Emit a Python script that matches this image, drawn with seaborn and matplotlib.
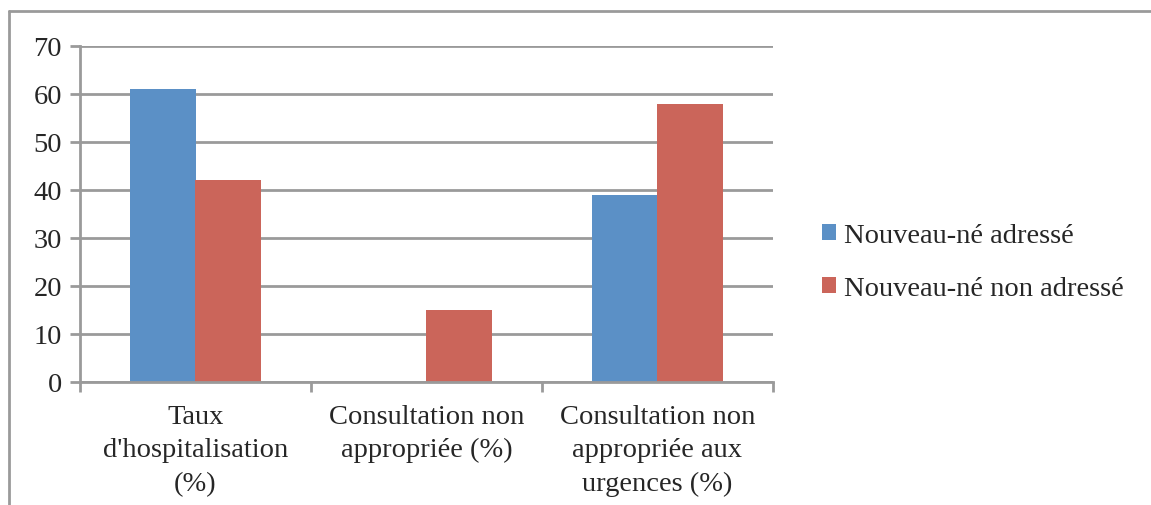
import pandas as pd
import seaborn as sns
import matplotlib.pyplot as plt
from matplotlib.lines import Line2D

# data
categories = ["Taux\nd'hospitalisation\n(%)",
              "Consultation non\nappropriée (%)",
              "Consultation non\nappropriée aux\nurgences (%)"]
series = ["Nouveau-né adressé", "Nouveau-né non adressé"]
adresse = [61, 0, 39]
non_adresse = [42, 15, 58]

df = pd.DataFrame({
    "categorie": categories * 2,
    "groupe": [series[0]] * 3 + [series[1]] * 3,
    "valeur": adresse + non_adresse,
})

sns.set_style("white")
plt.rcParams["font.family"] = ["Liberation Serif", "DejaVu Serif"]

grey = "#9a9a9a"
palette = {series[0]: "#5b90c6", series[1]: "#cb655a"}
fs = 20.5

fig = plt.figure(figsize=(11.51, 5.06), dpi=100)
ax = fig.add_axes([80 / 1151, 1 - 383 / 506, (773 - 80) / 1151, (383 - 47) / 506])

sns.barplot(data=df, x="categorie", y="valeur", hue="groupe", palette=palette,
            width=0.565, saturation=1, ax=ax, edgecolor="none")

ax.set_ylim(0, 70)
ax.set_xlim(-0.5, 2.5)
ax.set_yticks(range(0, 71, 10))
ax.yaxis.grid(True, color=grey, linewidth=2)
ax.set_axisbelow(True)
ax.set_xlabel("")
ax.set_ylabel("")

for side in ["top", "right"]:
    ax.spines[side].set_visible(False)
for side in ["left", "bottom"]:
    ax.spines[side].set_color(grey)
    ax.spines[side].set_linewidth(2)

ax.tick_params(axis="y", left=True, length=7, width=2, color=grey,
               labelsize=fs, pad=6)
ax.set_xticks([0, 1, 2])
ax.set_xticklabels(categories, linespacing=1.46)
ax.tick_params(axis="x", bottom=False, labelsize=fs, pad=12)
ax.set_xticks([-0.5, 0.5, 1.5, 2.5], minor=True)
ax.tick_params(axis="x", which="minor", bottom=True, length=7, width=2, color=grey)

handles, labels = ax.get_legend_handles_labels()
ax.legend(handles, labels, loc="center left", bbox_to_anchor=(796 / 1151, 1 - 263 / 506),
          bbox_transform=fig.transFigure, frameon=False, fontsize=fs,
          handlelength=0.5, handleheight=0.5, handletextpad=0.3, labelspacing=1.0)

# outer frame (top and left edges visible)
fig.add_artist(Line2D([9 / 1151, 9 / 1151], [0, 1 - 12 / 506], color=grey, linewidth=2,
                      transform=fig.transFigure))
fig.add_artist(Line2D([9 / 1151, 1], [1 - 12 / 506, 1 - 12 / 506], color=grey, linewidth=2,
                      transform=fig.transFigure))

fig.savefig("out.png", dpi=100)
